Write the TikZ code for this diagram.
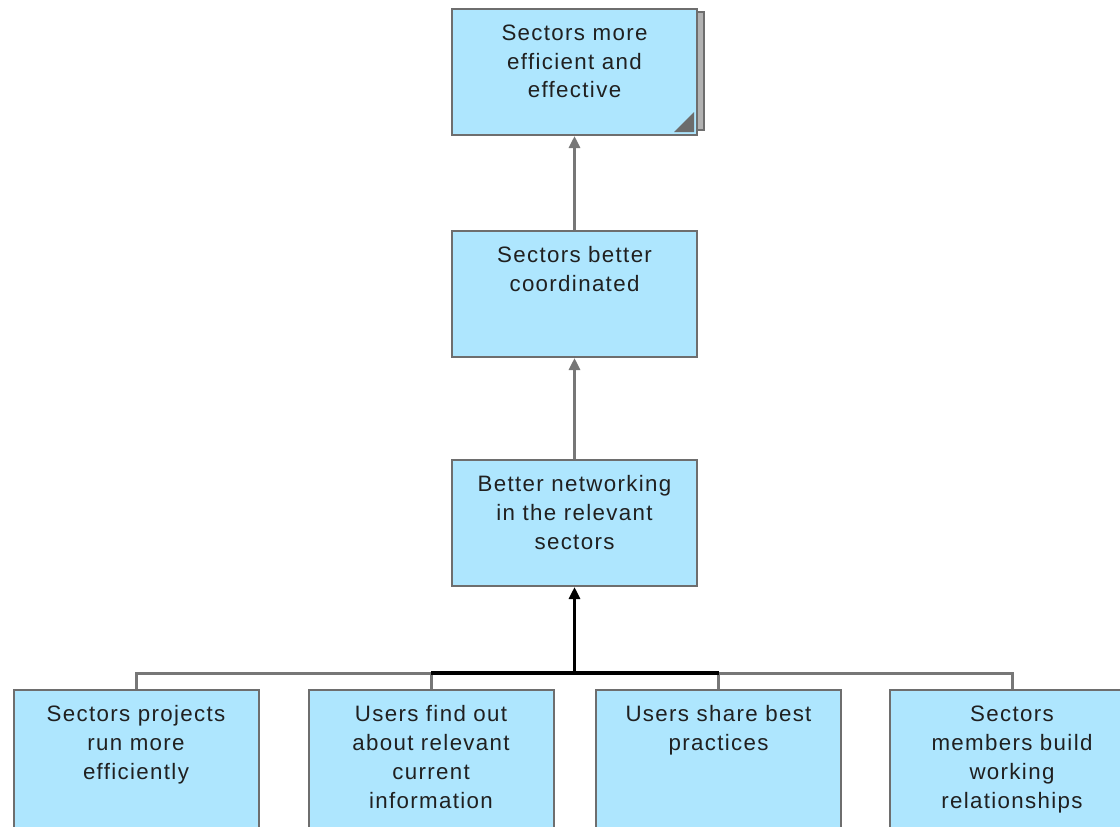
\documentclass[tikz,border=0pt]{standalone}
\usepackage{fontspec}
\newfontfamily\dfont{Liberation Sans}[LetterSpace=6]
\usetikzlibrary{arrows.meta}
\definecolor{boxfill}{HTML}{AEE6FE}
\definecolor{boxline}{HTML}{6E6E6E}
\definecolor{connline}{HTML}{777777}
\definecolor{txtcol}{HTML}{202020}
\newcommand\bxt[2]{\parbox[t][#1pt][t]{240pt}{\centering\rule{0pt}{31pt}#2}}
\tikzset{
  box/.style={draw=boxline, line width=2pt, fill=boxfill, inner sep=0pt, text=txtcol,
    font=\dfont\fontsize{22.3}{29}\selectfont, anchor=north, minimum width=245pt},
  conn/.style={draw=connline, line width=3pt},
  darkconn/.style={draw=black, line width=3.5pt},
  arr/.style={-{Triangle[width=11pt,length=12pt]}, draw=connline, line width=3pt},
  darkarr/.style={-{Triangle[width=11pt,length=12pt]}, draw=black, line width=3.5pt},
}
\begin{document}
\begin{tikzpicture}[x=1pt,y=-1pt]
\useasboundingbox (0,0) rectangle (1120,827);
\clip (0,0) rectangle (1120,827);
% shadow page behind top box
\filldraw[fill=gray!60, draw=boxline, line width=1.5pt] (600,12) rectangle (704,130);
\node[box] (n1) at (574.5,8) {\bxt{126}{Sectors more\\efficient and\\effective}};
\fill[gray!85!black] ([xshift=-4pt,yshift=4pt]n1.south east) -- ++(0,-20) -- ++(-20,20) -- cycle;
\node[box] (n2) at (574.5,230) {\bxt{126}{Sectors better\\coordinated}};
\node[box] (n3) at (574.5,459) {\bxt{126}{Better networking\\in the relevant\\sectors}};
\node[box] (b1) at (136,689) {\bxt{150}{Sectors projects\\run more\\efficiently}};
\node[box] (b2) at (431,689) {\bxt{150}{Users find out\\about relevant\\current\\information}};
\node[box] (b3) at (718.5,689) {\bxt{150}{Users share best\\practices}};
\node[box] (b4) at (1012,689) {\bxt{150}{Sectors\\members build\\working\\relationships}};
\coordinate (bus) at (574.5,673);
\draw[arr] (n2.north) -- (n1.south);
\draw[arr] (n3.north) -- (n2.south);
\draw[conn] (b1.north) -- (b1.north |- bus) -- (b4.north |- bus) -- (b4.north);
\draw[conn] (b2.north) -- (b2.north |- bus);
\draw[conn] (b3.north) -- (b3.north |- bus);
\draw[darkconn] (b2.north |- bus) -- (b3.north |- bus);
\draw[darkarr] (bus) -- (n3.south);
\end{tikzpicture}
\end{document}
